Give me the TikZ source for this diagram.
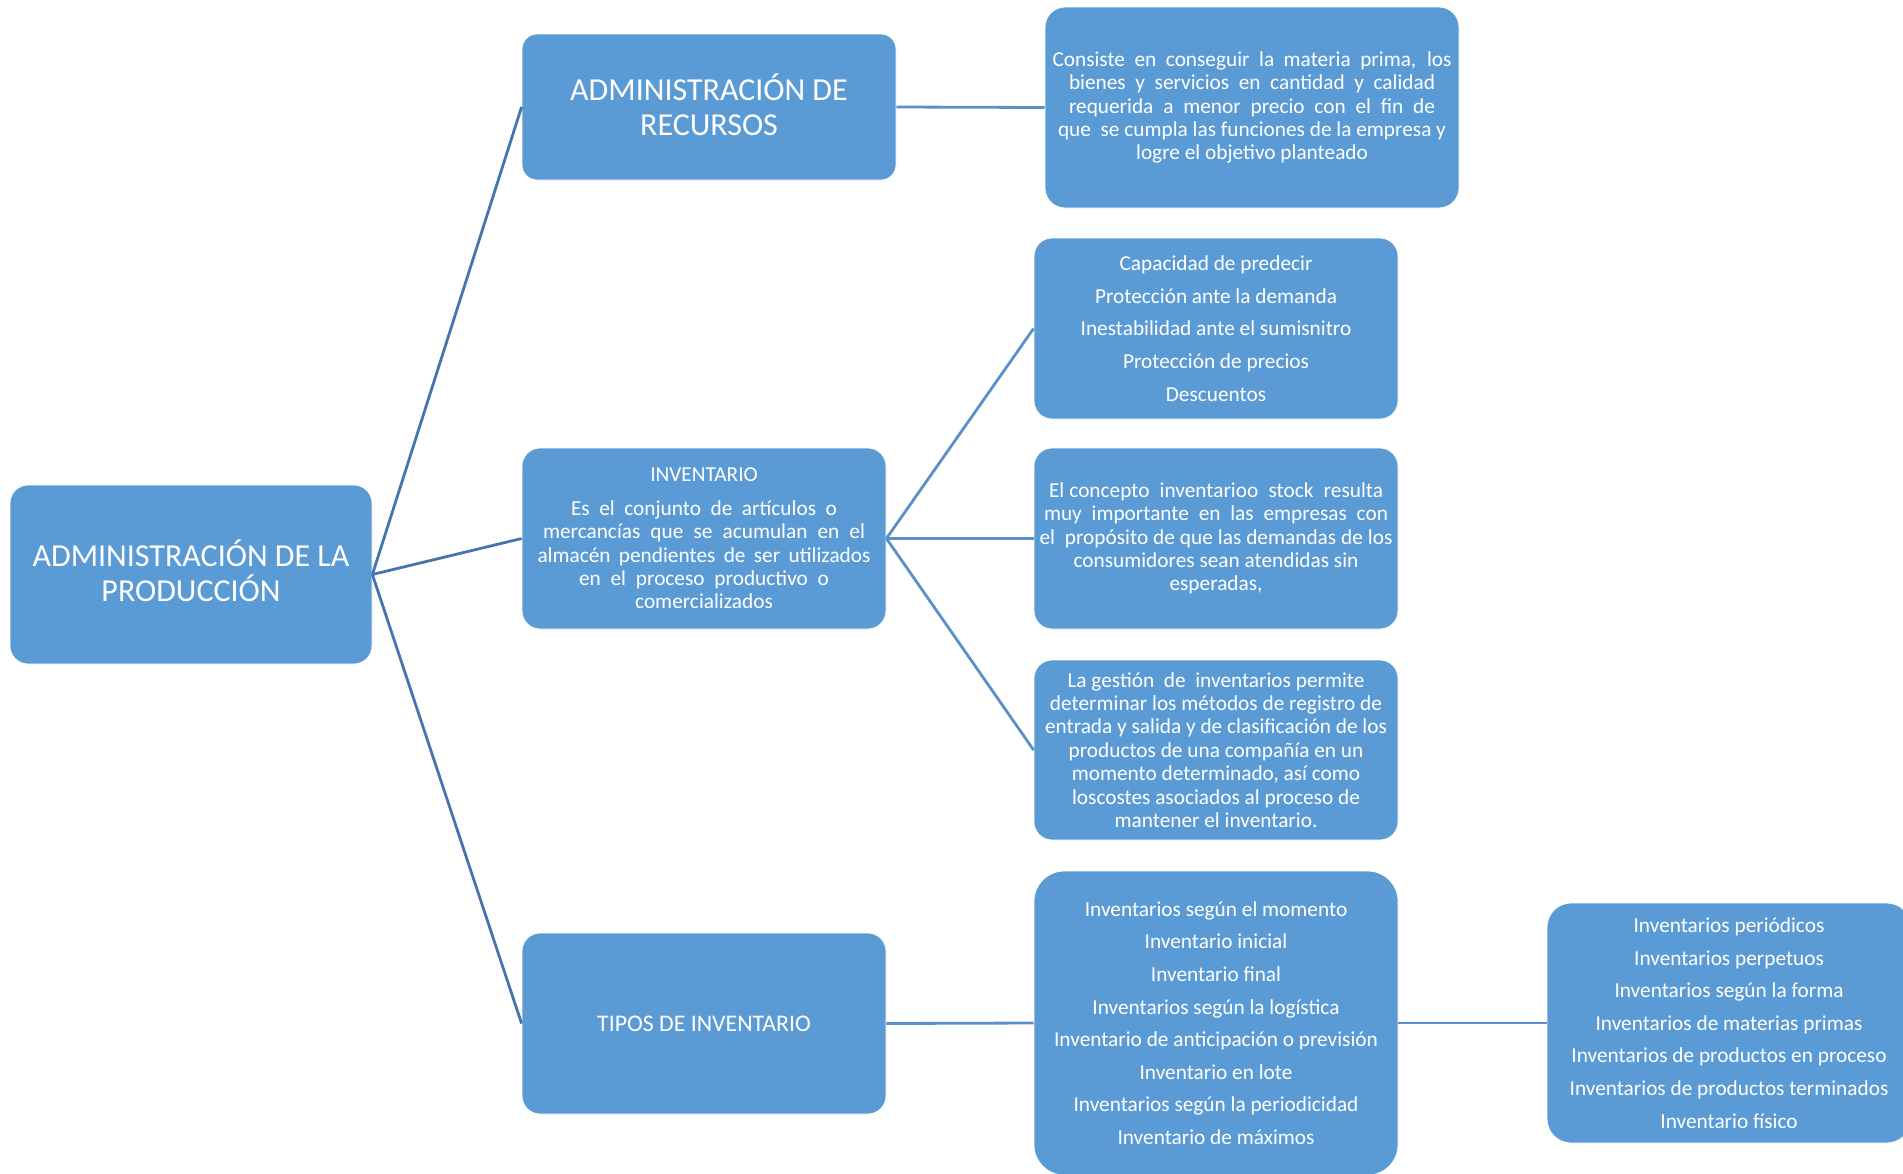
\documentclass[tikz,border=0pt]{standalone}
\usepackage{fontspec}
\setmainfont{Carlito}
\definecolor{boxblue}{HTML}{5B9BD5}
\definecolor{linkA}{HTML}{4475AC}
\definecolor{linkB}{HTML}{5A8FC9}
\tikzset{
  box/.style={draw=white, line width=0.8pt, fill=boxblue, rounded corners=#1,
    text=white, align=center, inner sep=0pt, anchor=center},
  box/.default=18pt,
  big/.style={font=\fontsize{32}{35}\selectfont},
  mid/.style={font=\fontsize{23.8}{28}\selectfont},
  para/.style={font=\fontsize{21.3}{23.4}\selectfont},
  items/.style={font=\fontsize{21.3}{32.6}\selectfont},
  linkone/.style={draw=linkA, line width=2.8pt},
  linktwo/.style={draw=linkB, line width=2.8pt},
}
\begin{document}
\begin{tikzpicture}[x=1pt,y=-1pt]
\useasboundingbox (0,0) rectangle (1903,1173);
\clip (0,0) rectangle (1903,1173);

% level 0
\node[box=18pt, big, minimum width=362pt, minimum height=179pt] (root) at (191,574.5)
  {ADMINISTRACIÓN DE LA\\PRODUCCIÓN\rule[-7.2pt]{0pt}{1pt}};

% level 1
\node[box=15pt, big, minimum width=374pt, minimum height=146pt] (rec) at (709,107)
  {ADMINISTRACIÓN DE\\RECURSOS\rule[-4.8pt]{0pt}{1pt}};
\node[box=18pt, para, minimum width=364pt, minimum height=181pt] (inv) at (704,538.5)
  {INVENTARIO\\[10pt]
   \makebox[266pt][s]{Es el conjunto de artículos o}\\
   \makebox[322pt][s]{mercancías que se acumulan en el}\\
   \makebox[333pt][s]{almacén pendientes de ser utilizados}\\
   \makebox[250pt][s]{en el proceso productivo o}\\
   comercializados};
\node[box=18pt, mid, minimum width=364pt, minimum height=181pt] (tip) at (704,1023.5)
  {TIPOS DE INVENTARIO};

% level 2
\node[box=20pt, para, minimum width=414pt, minimum height=201pt] (cons) at (1252,107.5)
  {\makebox[399pt][s]{Consiste en conseguir la materia prima, los}\\
   \makebox[366pt][s]{bienes y servicios en cantidad y calidad}\\
   \makebox[366pt][s]{requerida a menor precio con el fin de}\\
   que\ \ se cumpla las funciones de la empresa y\\
   logre el objetivo planteado};
\node[box=18pt, items, minimum width=364pt, minimum height=181pt] (cap) at (1216,328.5)
  {Capacidad de predecir\\
   Protección ante la demanda\\
   Inestabilidad ante el sumisnitro\\
   Protección de precios\\
   Descuentos};
\node[box=18pt, para, minimum width=364pt, minimum height=181pt] (conc) at (1216,538.5)
  {\makebox[334pt][s]{El concepto\ \ inventarioo\ \ stock\ \ resulta}\\
   \makebox[344pt][s]{muy importante en las empresas con}\\
   \makebox[353pt][s]{el\ \ propósito de que las demandas de los}\\
   consumidores sean atendidas sin\\
   esperadas,};
\node[box=18pt, para, minimum width=364pt, minimum height=180pt] (gest) at (1216,750)
  {La gestión\ \ de\ \ inventarios permite\\
   determinar los métodos de registro de\\
   entrada y salida y de clasificación de los\\
   productos de una compañía en un\\
   momento determinado, así como\\
   loscostes asociados al proceso de\\
   mantener el inventario.};
\node[box=30pt, items, minimum width=364pt, minimum height=304pt] (tipl) at (1216,1023)
  {Inventarios según el momento\\
   Inventario inicial\\
   Inventario final\\
   Inventarios según la logística\\
   Inventario de anticipación o previsión\\
   Inventario en lote\\
   Inventarios según la periodicidad\\
   Inventario de máximos};

% level 3
\node[box=24pt, items, minimum width=364pt, minimum height=240pt] (tipr) at (1729,1023)
  {Inventarios periódicos\\
   Inventarios perpetuos\\
   Inventarios según la forma\\
   Inventarios de materias primas\\
   Inventarios de productos en proceso\\
   Inventarios de productos terminados\\
   Inventario físico};

% connectors
\draw[linkone] (root.east) -- (rec.west);
\draw[linkone] (root.east) -- (inv.west);
\draw[linkone] (root.east) -- (tip.west);
\draw[linktwo] (rec.east) -- (cons.west);
\draw[linktwo] (inv.east) -- (cap.west);
\draw[linktwo] (inv.east) -- (conc.west);
\draw[linktwo] (inv.east) -- (gest.west);
\draw[linktwo] (tip.east) -- (tipl.west);
\draw[linktwo] (tipl.east) -- (tipr.west);
\end{tikzpicture}
\end{document}
